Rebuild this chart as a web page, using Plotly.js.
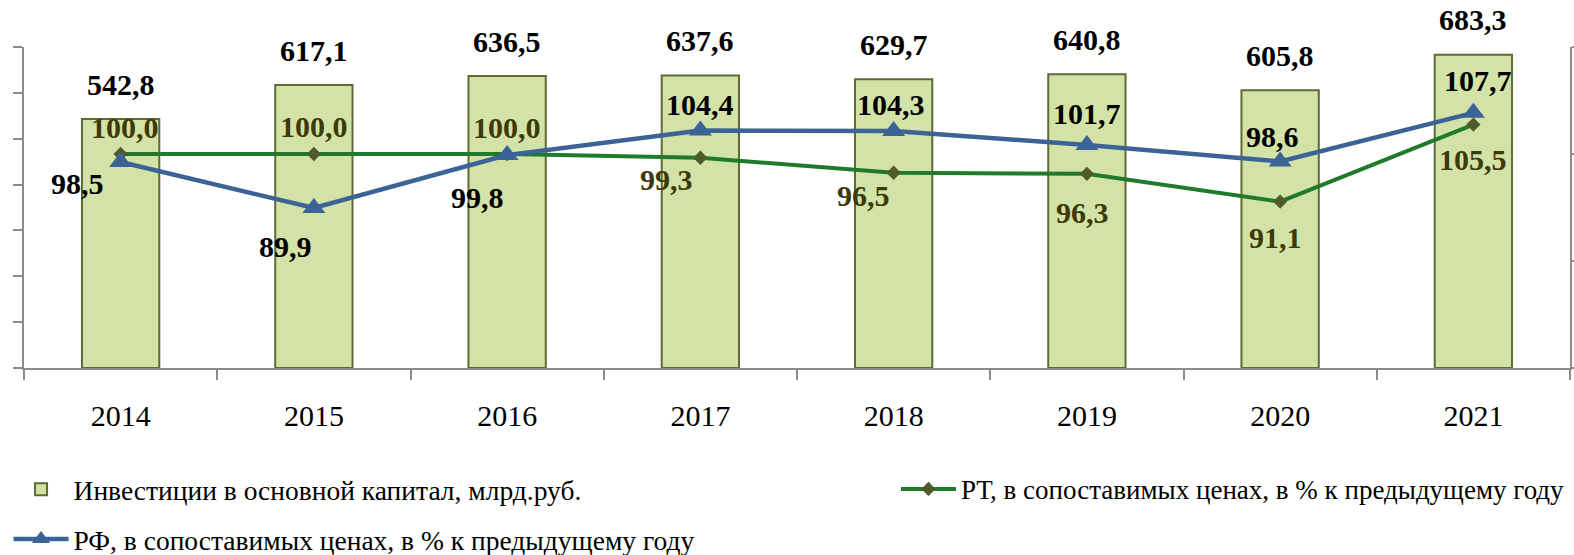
<!DOCTYPE html>
<html>
<head>
<meta charset="utf-8">
<script src="https://cdn.plot.ly/plotly-3.0.1.min.js"></script>
<style>
  html, body { margin: 0; padding: 0; background: #fff; }
  #chart { width: 1574px; height: 555px; }
</style>
</head>
<body>
<div id="chart"></div>
<script>
// Инвестиции в основной капитал и индексы физического объёма
const years = ["2014", "2015", "2016", "2017", "2018", "2019", "2020", "2021"];
const investments = [542.8, 617.1, 636.5, 637.6, 629.7, 640.8, 605.8, 683.3];
const rfIndex = [98.5, 89.9, 99.8, 104.4, 104.3, 101.7, 98.6, 107.7];
const rtIndex = [100.0, 100.0, 100.0, 99.3, 96.5, 96.3, 91.1, 105.5];

// label offsets in px (dx right, dy down)
const rfDx = [-43, -28, -30, 0, -3, 0, -8, 5];
const rfDy = [21, 38, 42, -26, -27, -31, -25, -32];
const rtDx = [4, 0, 0, -34, -30, -4, -5, 0];
const rtDy = [-27, -28, -27, 22, 23, 39, 36, 35];

const fmt = v => v.toFixed(1).replace(".", ",");
const serif = "'Liberation Serif', 'Times New Roman', serif";
const axisGrey = "#8c8c8c";

const traces = [
  {
    type: "bar",
    name: "Инвестиции в основной капитал, млрд.руб.",
    x: years,
    y: investments,
    width: 0.4,
    marker: {
      color: "#d3e2a6",
      line: { color: "#5f6b33", width: 2 }
    },
    legend: "legend",
    hoverinfo: "y"
  },
  {
    type: "scatter",
    mode: "lines+markers",
    name: "РТ, в сопоставимых ценах, в % к предыдущему году",
    x: years,
    y: rtIndex,
    yaxis: "y2",
    line: { color: "#1f7a2c", width: 4 },
    marker: { symbol: "diamond", size: 11, color: "#4f5b2a" },
    legend: "legend2"
  },
  {
    type: "scatter",
    mode: "lines+markers",
    name: "РФ, в сопоставимых ценах, в % к предыдущему году",
    x: years,
    y: rfIndex,
    yaxis: "y2",
    line: { color: "#3b6396", width: 4.5 },
    marker: { symbol: "triangle-up", size: 20, color: "#3b6396" },
    legend: "legend3"
  }
];

const labelFont = { family: serif, size: 30, color: "#000", weight: "bold" };

// category axis: annotations placed by category index
const annotations = [
  ...investments.map((v, i) => ({
    x: i, y: v, xref: "x", yref: "y",
    text: "<b>" + fmt(v) + "</b>",
    showarrow: false, yanchor: "middle", yshift: 35,
    font: labelFont
  })),
  ...rfIndex.map((v, i) => ({
    x: i, y: v, xref: "x", yref: "y2",
    text: "<b>" + fmt(v) + "</b>",
    showarrow: false, yanchor: "middle",
    xshift: rfDx[i], yshift: -rfDy[i],
    font: labelFont
  })),
  ...rtIndex.map((v, i) => ({
    x: i, y: v, xref: "x", yref: "y2",
    text: "<b>" + fmt(v) + "</b>",
    showarrow: false, yanchor: "middle",
    xshift: rtDx[i], yshift: -rtDy[i],
    font: Object.assign({}, labelFont, { color: "#3d3a08" })
  }))
];

const legendBase = {
  orientation: "h",
  xanchor: "left",
  yanchor: "middle",
  bgcolor: "rgba(0,0,0,0)",
  itemwidth: 55,
  font: { family: serif, size: 27.5, color: "#000" }
};

const layout = {
  width: 1574,
  height: 555,
  margin: { l: 24, r: 4, t: 47, b: 187, autoexpand: false },
  paper_bgcolor: "#fff",
  plot_bgcolor: "#fff",
  font: { family: serif, color: "#000" },
  xaxis: {
    type: "category",
    range: [-0.5, years.length - 0.5],
    autorange: false,
    showline: true,
    linecolor: axisGrey,
    linewidth: 2,
    ticks: "outside",
    tickson: "boundaries",
    ticklen: 10,
    tickwidth: 2,
    tickcolor: axisGrey,
    ticklabelstandoff: 20,
    tickangle: 0,
    tickfont: { family: serif, size: 30, color: "#000" },
    showgrid: false
  },
  yaxis: {
    range: [0, 700],
    autorange: false,
    dtick: 100,
    showline: true,
    linecolor: axisGrey,
    linewidth: 2,
    ticks: "outside",
    ticklen: 9,
    tickwidth: 2,
    tickcolor: axisGrey,
    showticklabels: false,
    showgrid: false,
    zeroline: false
  },
  yaxis2: {
    overlaying: "y",
    side: "right",
    range: [60, 120],
    autorange: false,
    dtick: 20,
    showline: true,
    linecolor: axisGrey,
    linewidth: 2,
    ticks: "outside",
    ticklen: 9,
    tickwidth: 2,
    tickcolor: axisGrey,
    showticklabels: false,
    showgrid: false,
    zeroline: false
  },
  showlegend: true,
  legend: Object.assign({}, legendBase, { x: -0.01, y: -0.378 }),
  legend2: Object.assign({}, legendBase, {
    x: 0.564, y: -0.378,
    font: { family: serif, size: 27, color: "#000" }
  }),
  legend3: Object.assign({}, legendBase, { x: -0.01, y: -0.533 }),
  annotations: annotations
};

Plotly.newPlot("chart", traces, layout, { displayModeBar: false, staticPlot: true });
</script>
</body>
</html>
